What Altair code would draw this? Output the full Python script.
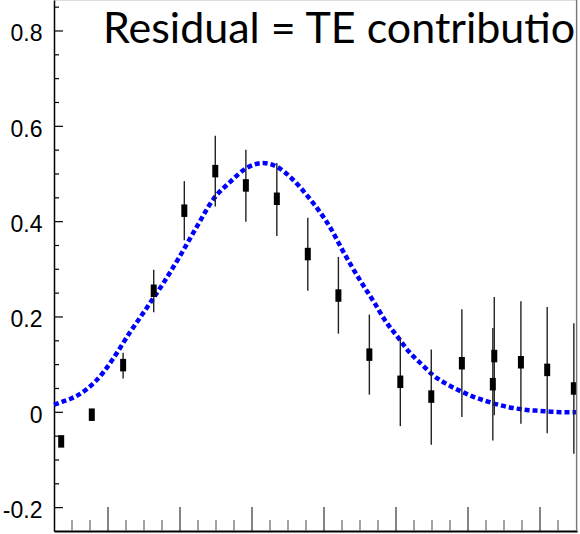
import altair as alt
import pandas as pd

title_text = "Residual = TE contributio"

# data points (x in arbitrary axis units, major ticks at integers)
pt_x = [0.35, 0.775, 1.21, 1.635, 2.06, 2.49, 2.915, 3.345, 3.775, 4.2,
        4.63, 5.06, 5.49, 5.915, 6.365, 6.345, 6.735, 7.1, 7.47]
pt_y = [-0.061, -0.005, 0.099, 0.255, 0.423, 0.506, 0.476, 0.448, 0.332, 0.245,
        0.121, 0.064, 0.033, 0.103, 0.118, 0.059, 0.105, 0.089, 0.050]
pt_lo = [-0.068, -0.012, 0.071, 0.210, 0.361, 0.432, 0.400, 0.370, 0.255, 0.165,
         0.037, -0.029, -0.068, -0.010, -0.006, -0.059, -0.024, -0.044, -0.087]
pt_hi = [-0.054, 0.002, 0.125, 0.299, 0.485, 0.580, 0.551, 0.523, 0.408, 0.326,
         0.205, 0.155, 0.132, 0.216, 0.242, 0.177, 0.233, 0.221, 0.187]

# fitted curve
curve_x = [0.250, 0.361, 0.472, 0.583, 0.708, 0.819, 0.931, 1.069, 1.306, 1.542,
           1.764, 2.000, 2.236, 2.458, 2.694, 2.931, 3.153, 3.347, 3.556, 3.764,
           3.944, 4.097, 4.250, 4.389, 4.542, 4.708, 4.847, 5.014, 5.181, 5.361,
           5.514, 5.708, 5.889, 6.069, 6.264, 6.444, 6.625, 6.819, 7.000, 7.181,
           7.375, 7.514]
curve_y = [0.016, 0.022, 0.028, 0.036, 0.049, 0.064, 0.083, 0.112, 0.168, 0.220,
           0.270, 0.328, 0.390, 0.446, 0.483, 0.513, 0.523, 0.515, 0.490, 0.455,
           0.420, 0.385, 0.342, 0.305, 0.267, 0.228, 0.193, 0.160, 0.127, 0.100,
           0.078, 0.059, 0.045, 0.033, 0.023, 0.015, 0.009, 0.005, 0.003, 0.001,
           0.000, 0.000]

y_major = [-0.2, 0, 0.2, 0.4, 0.6, 0.8]
y_minor = [-0.15, -0.1, -0.05, 0.05, 0.1, 0.15, 0.25, 0.3, 0.35, 0.45, 0.5,
           0.55, 0.65, 0.7, 0.75, 0.85]
x_major = [1, 2, 3, 4, 5, 6, 7]
x_minor = [0.5, 0.75, 1.25, 1.5, 1.75, 2.25, 2.5, 2.75, 3.25, 3.5, 3.75, 4.25,
           4.5, 4.75, 5.25, 5.5, 5.75, 6.25, 6.5, 6.75, 7.25]

pts = pd.DataFrame({"x": pt_x, "y": pt_y, "lo": pt_lo, "hi": pt_hi})
curve = pd.DataFrame({"x": curve_x, "y": curve_y})

xs = alt.Scale(domain=[0.25, 7.514], nice=False, zero=False)
ys = alt.Scale(domain=[-0.249, 0.865], nice=False, zero=False)

W, H = 523, 531

x_axis = alt.Axis(labels=False, ticks=False, grid=False, title=None,
                  domainColor="black", domainWidth=2)
y_axis = alt.Axis(values=y_major, ticks=False, tickSize=0, grid=False, title=None,
                  domainColor="black", domainWidth=1.5,
                  labelFont="Liberation Sans Narrow, Liberation Sans, sans-serif",
                  labelFontSize=23, labelFontWeight="normal",
                  labelColor="black", labelPadding=12, labelOffset=3,
                  labelExpr="toString(datum.value)")

line = alt.Chart(curve).mark_line(
    color="#0000ff", strokeWidth=4.5, strokeDash=[5, 3], interpolate="monotone"
).encode(
    x=alt.X("x:Q", scale=xs, axis=x_axis),
    y=alt.Y("y:Q", scale=ys, axis=y_axis),
)

err = alt.Chart(pts).mark_rule(color="#222222", strokeWidth=1.4).encode(
    x=alt.X("x:Q", scale=xs),
    y=alt.Y("lo:Q", scale=ys),
    y2="hi:Q",
)

marks = alt.Chart(pts).mark_tick(
    color="black", orient="vertical", size=12.5, thickness=6, opacity=1
).encode(
    x=alt.X("x:Q", scale=xs),
    y=alt.Y("y:Q", scale=ys),
)

ymaj = alt.Chart(pd.DataFrame({"v": y_major})).mark_rule(color="black", strokeWidth=1.2).encode(
    y=alt.Y("v:Q", scale=ys), x=alt.value(0), x2=alt.value(9))
ymin = alt.Chart(pd.DataFrame({"v": y_minor})).mark_rule(color="black", strokeWidth=1.2).encode(
    y=alt.Y("v:Q", scale=ys), x=alt.value(0), x2=alt.value(5))
xmaj = alt.Chart(pd.DataFrame({"v": x_major})).mark_rule(color="#333333", strokeWidth=1.2).encode(
    x=alt.X("v:Q", scale=xs), y=alt.value(H), y2=alt.value(H - 24))
xmin = alt.Chart(pd.DataFrame({"v": x_minor})).mark_rule(color="#666666", strokeWidth=1.2).encode(
    x=alt.X("v:Q", scale=xs), y=alt.value(H), y2=alt.value(H - 11))

frame = alt.Chart(pd.DataFrame({"v": [0]})).mark_rule(color="#777777", strokeWidth=1.2).encode(
    x=alt.value(W - 0.5), y=alt.value(0), y2=alt.value(H))

title = alt.Chart(pd.DataFrame({"t": [title_text]})).mark_text(
    font="Lato", fontSize=43, color="black", align="left", baseline="alphabetic"
).encode(x=alt.value(49), y=alt.value(43), text="t:N")

chart = alt.layer(line, err, marks, ymaj, ymin, xmaj, xmin, frame, title).properties(
    width=W, height=H,
    padding={"left": 54, "right": 3, "top": 0, "bottom": 3},
    autosize=alt.AutoSizeParams(type="none"),
).configure_view(stroke=None).configure(background="white")

chart.save("out.html", embed_options={"renderer": "svg", "actions": False})
